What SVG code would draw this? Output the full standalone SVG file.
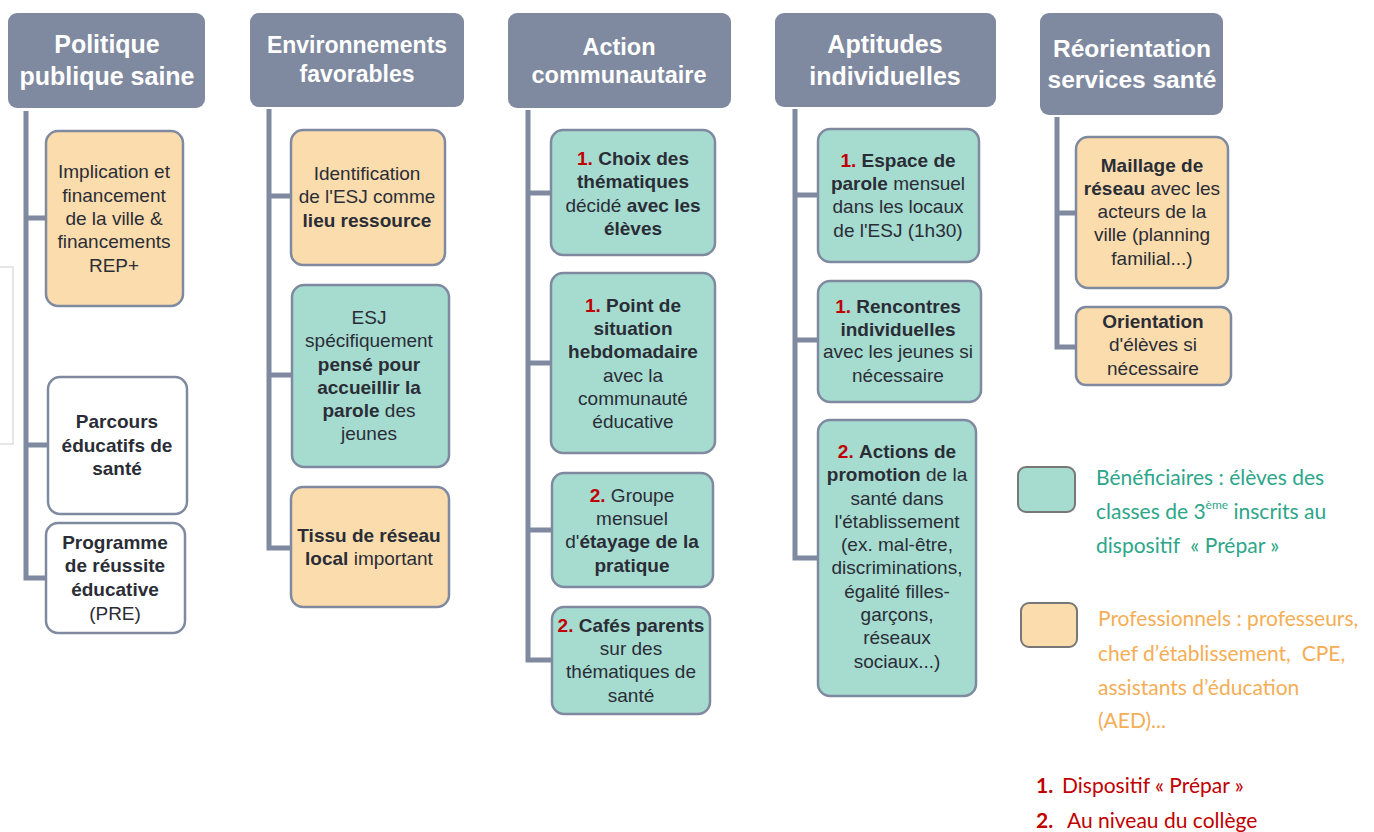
<svg xmlns="http://www.w3.org/2000/svg" width="1374" height="832" viewBox="0 0 1374 832">
<style>
.hdr{fill:#7f8aa0}
.ht{fill:#ffffff;font-family:"Liberation Sans",Arial,sans-serif;font-weight:bold;text-anchor:middle}
.box{stroke:#7f8aa0;stroke-width:2.5}
.teal{fill:#a6dbd0}
.orng{fill:#fbdcad}
.wht{fill:#ffffff}
.bt{fill:#2a2d36;font-family:"Liberation Sans",Arial,sans-serif;font-size:19px;text-anchor:middle}
.b{font-weight:bold}
.r{fill:#c00000;font-weight:bold}
.conn{fill:none;stroke:#7f8aa0;stroke-width:5}
.lg{font-family:Lato,"Noto Sans",sans-serif;font-size:21px}
</style>
<rect width="1374" height="832" fill="#ffffff"/>
<path d="M0,267 H13 V444 H0" fill="none" stroke="#dedede" stroke-width="1.5"/>

<g id="connectors">
<path class="conn" d="M26,111 V578 H46 M26,218 H46 M26,445 H48"/>
<path class="conn" d="M269,109 V548 H291 M269,196 H291 M269,375 H292"/>
<path class="conn" d="M528,110 V660 H552 M528,193 H551 M528,363 H551 M528,530 H552"/>
<path class="conn" d="M795,109 V558 H818 M795,195 H818 M795,340 H818"/>
<path class="conn" d="M1057,117 V347 H1076 M1057,213 H1076"/>
</g>

<g id="h1"><rect class="hdr" x="8" y="13" width="197" height="95" rx="9"/>
<text class="ht" font-size="25"><tspan x="107" y="53">Politique</tspan><tspan x="107" y="85">publique saine</tspan></text></g>
<g id="h2"><rect class="hdr" x="250" y="13" width="214" height="94" rx="9"/>
<text class="ht" font-size="23"><tspan x="357" y="53">Environnements</tspan><tspan x="357" y="82">favorables</tspan></text></g>
<g id="h3"><rect class="hdr" x="508" y="13" width="223" height="95" rx="9"/>
<text class="ht" font-size="23.5"><tspan x="619" y="55">Action</tspan><tspan x="619" y="83">communautaire</tspan></text></g>
<g id="h4"><rect class="hdr" x="775" y="13" width="221" height="94" rx="9"/>
<text class="ht" font-size="25"><tspan x="885" y="53">Aptitudes</tspan><tspan x="885" y="85">individuelles</tspan></text></g>
<g id="h5"><rect class="hdr" x="1040" y="13" width="183" height="102" rx="9"/>
<text class="ht" font-size="24.5"><tspan x="1132" y="57">Réorientation</tspan><tspan x="1132" y="88">services santé</tspan></text></g>

<g id="n1a"><rect class="box orng" x="46" y="131" width="137" height="175" rx="12"/>
<text class="bt"><tspan x="114" y="178">Implication et</tspan><tspan x="114" y="202">financement</tspan><tspan x="114" y="225">de la ville &amp;</tspan><tspan x="114" y="248">financements</tspan><tspan x="114" y="272">REP+</tspan></text></g>
<g id="n1b"><rect class="box wht" x="48" y="377" width="139" height="137" rx="12"/>
<text class="bt b"><tspan x="117" y="428">Parcours</tspan><tspan x="117" y="452">éducatifs de</tspan><tspan x="117" y="475">santé</tspan></text></g>
<g id="n1c"><rect class="box wht" x="46" y="523" width="139" height="110" rx="12"/>
<text class="bt"><tspan x="115" y="549" class="b">Programme</tspan><tspan x="115" y="572" class="b">de réussite</tspan><tspan x="115" y="596" class="b">éducative</tspan><tspan x="115" y="620">(PRE)</tspan></text></g>

<g id="n2a"><rect class="box orng" x="291" y="130" width="154" height="135" rx="12"/>
<text class="bt"><tspan x="367" y="180">Identification</tspan><tspan x="367" y="203">de l'ESJ comme</tspan><tspan x="367" y="227" class="b">lieu ressource</tspan></text></g>
<g id="n2b"><rect class="box teal" x="292" y="285" width="157" height="182" rx="12"/>
<text class="bt"><tspan x="369" y="324">ESJ</tspan><tspan x="369" y="347">spécifiquement</tspan><tspan x="369" y="371" class="b">pensé pour</tspan><tspan x="369" y="394" class="b">accueillir la</tspan><tspan x="369" y="417"><tspan class="b">parole</tspan> des</tspan><tspan x="369" y="440">jeunes</tspan></text></g>
<g id="n2c"><rect class="box orng" x="291" y="487" width="158" height="120" rx="12"/>
<text class="bt"><tspan x="369" y="542" class="b">Tissu de réseau</tspan><tspan x="369" y="565"><tspan class="b">local</tspan> important</tspan></text></g>

<g id="n3a"><rect class="box teal" x="551" y="130" width="164" height="125" rx="12"/>
<text class="bt"><tspan x="633" y="165"><tspan class="r">1.</tspan> <tspan class="b">Choix des</tspan></tspan><tspan x="633" y="188" class="b">thématiques</tspan><tspan x="633" y="212">décidé <tspan class="b">avec les</tspan></tspan><tspan x="633" y="235" class="b">élèves</tspan></text></g>
<g id="n3b"><rect class="box teal" x="551" y="273" width="164" height="180" rx="12"/>
<text class="bt"><tspan x="633" y="312"><tspan class="r">1.</tspan> <tspan class="b">Point de</tspan></tspan><tspan x="633" y="335" class="b">situation</tspan><tspan x="633" y="358" class="b">hebdomadaire</tspan><tspan x="633" y="382">avec la</tspan><tspan x="633" y="405">communauté</tspan><tspan x="633" y="428">éducative</tspan></text></g>
<g id="n3c"><rect class="box teal" x="552" y="473" width="161" height="114" rx="12"/>
<text class="bt"><tspan x="632" y="502"><tspan class="r">2.</tspan> Groupe</tspan><tspan x="632" y="525">mensuel</tspan><tspan x="632" y="548">d'<tspan class="b">étayage de la</tspan></tspan><tspan x="632" y="572" class="b">pratique</tspan></text></g>
<g id="n3d"><rect class="box teal" x="552" y="607" width="158" height="107" rx="12"/>
<text class="bt"><tspan x="631" y="632"><tspan class="r">2.</tspan> <tspan class="b">Cafés parents</tspan></tspan><tspan x="631" y="655">sur des</tspan><tspan x="631" y="678">thématiques de</tspan><tspan x="631" y="702">santé</tspan></text></g>

<g id="n4a"><rect class="box teal" x="818" y="129" width="161" height="133" rx="12"/>
<text class="bt"><tspan x="898" y="167"><tspan class="r">1.</tspan> <tspan class="b">Espace de</tspan></tspan><tspan x="898" y="190"><tspan class="b">parole</tspan> mensuel</tspan><tspan x="898" y="213">dans les locaux</tspan><tspan x="898" y="237">de l'ESJ (1h30)</tspan></text></g>
<g id="n4b"><rect class="box teal" x="818" y="281" width="163" height="121" rx="12"/>
<text class="bt"><tspan x="898" y="313"><tspan class="r">1.</tspan> <tspan class="b">Rencontres</tspan></tspan><tspan x="898" y="336" class="b">individuelles</tspan><tspan x="898" y="358">avec les jeunes si</tspan><tspan x="898" y="382">nécessaire</tspan></text></g>
<g id="n4c"><rect class="box teal" x="818" y="420" width="158" height="276" rx="12"/>
<text class="bt"><tspan x="897" y="458"><tspan class="r">2.</tspan> <tspan class="b">Actions de</tspan></tspan><tspan x="897" y="481"><tspan class="b">promotion</tspan> de la</tspan><tspan x="897" y="505">santé dans</tspan><tspan x="897" y="528">l'établissement</tspan><tspan x="897" y="551">(ex. mal-être,</tspan><tspan x="897" y="574">discriminations,</tspan><tspan x="897" y="598">égalité filles-</tspan><tspan x="897" y="621">garçons,</tspan><tspan x="897" y="644">réseaux</tspan><tspan x="897" y="668">sociaux...)</tspan></text></g>

<g id="n5a"><rect class="box orng" x="1076" y="137" width="152" height="151" rx="12"/>
<text class="bt"><tspan x="1152" y="172" class="b">Maillage de</tspan><tspan x="1152" y="195"><tspan class="b">réseau</tspan> avec les</tspan><tspan x="1152" y="218">acteurs de la</tspan><tspan x="1152" y="241">ville (planning</tspan><tspan x="1152" y="265">familial...)</tspan></text></g>
<g id="n5b"><rect class="box orng" x="1076" y="307" width="155" height="78" rx="10"/>
<text class="bt"><tspan x="1153" y="328" class="b">Orientation</tspan><tspan x="1153" y="351">d'élèves si</tspan><tspan x="1153" y="375">nécessaire</tspan></text></g>

<g id="legend">
<rect x="1018" y="467" width="57" height="45" rx="8" fill="#a6dbd0" stroke="#777777" stroke-width="2"/>
<text class="lg" fill="#2ca689"><tspan x="1096" y="485">Bénéficiaires : élèves des</tspan><tspan x="1096" y="519">classes de 3<tspan font-size="12" dy="-10">ème</tspan><tspan dy="10"> inscrits au</tspan></tspan><tspan x="1096" y="553">dispositif &#160;« Prépar »</tspan></text>
<rect x="1021" y="603" width="56" height="44" rx="8" fill="#fbdcad" stroke="#777777" stroke-width="2"/>
<text class="lg" fill="#f5ae55"><tspan x="1098" y="626">Professionnels : professeurs,</tspan><tspan x="1098" y="661">chef d’établissement, &#160;CPE,</tspan><tspan x="1098" y="695">assistants d’éducation</tspan><tspan x="1098" y="728">(AED)...</tspan></text>
<text class="lg" fill="#c00000"><tspan x="1036" y="793" font-weight="bold">1.</tspan><tspan x="1062" y="793">Dispositif « Prépar »</tspan><tspan x="1036" y="828" font-weight="bold">2.</tspan><tspan x="1067" y="828">Au niveau du collège</tspan></text>
</g>
</svg>
